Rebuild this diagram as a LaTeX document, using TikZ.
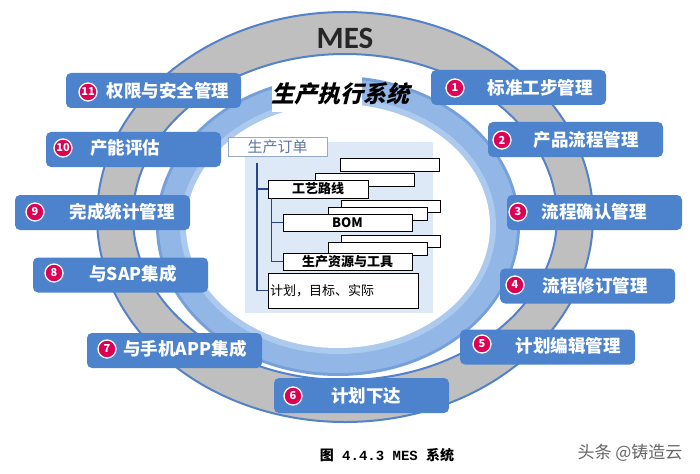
\documentclass[tikz,border=0pt]{standalone}
\usepackage{fontspec}
\setmainfont{Liberation Sans}
\newfontfamily\cjk{Noto Sans CJK SC}
\newfontfamily\cjkslant{Noto Sans CJK SC}[FakeSlant=0.25,BoldFeatures={FakeSlant=0.25}]
\newfontfamily\mesfont{Carlito}
\newfontfamily\capmono{Liberation Mono}
\definecolor{ringgray}{RGB}{191,191,191}
\definecolor{ringblue}{RGB}{84,130,200}
\definecolor{lbdark}{RGB}{118,160,218}
\definecolor{lbmid}{RGB}{146,183,231}
\definecolor{lblight}{RGB}{172,201,238}
\definecolor{panelblue}{RGB}{221,233,246}
\definecolor{boxblue}{RGB}{76,131,204}
\definecolor{badgered}{RGB}{222,0,84}
\definecolor{treeblue}{RGB}{40,70,140}
\definecolor{ordertext}{RGB}{95,120,165}
\definecolor{orderline}{RGB}{150,170,200}

\begin{document}
\begin{tikzpicture}[x=1pt,y=-1pt,
        mbox/.style={fill=boxblue,rounded corners=5pt,minimum width=175pt,
            minimum height=35pt,inner sep=0pt},
        badge/.style={circle,fill=badgered,draw=white,line width=1.3pt,
            minimum size=18pt,inner sep=0pt,text=white,
            font=\cjk\bfseries\fontsize{11}{11}\selectfont},
        mlabel/.style={text=white,inner sep=0pt,
            font=\cjk\bfseries\fontsize{17.5}{17.5}\selectfont},
        leaf/.style={draw,fill=white,line width=0.9pt,inner sep=0pt,
            font=\cjk\bfseries\fontsize{13}{13}\selectfont},
        back/.style={draw,fill=white,line width=0.9pt,inner sep=0pt,
            minimum width=99pt,minimum height=13pt},
        twigline/.style={treeblue,line width=1.1pt}]
\useasboundingbox (0,0) rectangle (700,473);
\fill[white] (0,0) rectangle (700,473);

\fill[ringgray,even odd rule] (345,217) ellipse [x radius=248pt,y radius=205pt]
    (345,217) ellipse [x radius=212pt,y radius=163pt];
\draw[ringblue,line width=2pt] (345,217) ellipse [x radius=248pt,y radius=205pt];
\draw[ringblue,line width=2pt] (345,217) ellipse [x radius=212pt,y radius=163pt];

\fill[lbdark] (338,226) ellipse [x radius=182pt,y radius=150pt];
\fill[lbmid] (338,226) ellipse [x radius=179pt,y radius=147pt];
\fill[lblight] (338,226) ellipse [x radius=158pt,y radius=128pt];
\fill[white] (338,226) ellipse [x radius=152pt,y radius=122pt];
\fill[white] (272,66) rectangle (362,112);

\fill[panelblue] (245,142) rectangle (433,313);
\node[draw=orderline,fill=white,line width=1pt,minimum width=99pt,minimum height=18pt,
    inner sep=0pt,text=ordertext,font=\cjk\fontsize{15}{15}\selectfont]
    (order) at (277.5,147) {生产订单};

\node[back] (route2) at (390,164.5) {};
\node[back] (route1) at (365,179.5) {};
\node[leaf,minimum width=100pt,minimum height=18pt] (route) at (318,189) {工艺路线};
\node[back,minimum height=12pt] (bom2) at (391,206) {};
\node[back] (bom1) at (377.5,213.5) {};
\node[leaf,minimum width=129pt,minimum height=17pt] (bom) at (347.5,222.5) {BOM};
\node[back,minimum height=12pt] (res2) at (391,241) {};
\node[back] (res1) at (377.5,248.5) {};
\node[leaf,minimum width=129pt,minimum height=17pt] (res) at (347.5,261.5) {生产资源与工具};
\node[leaf,font=\cjk\fontsize{13}{13}\selectfont,minimum width=150pt,minimum height=35pt,
    text width=146pt,align=left] (plan) at (343,290.5) {计划，目标、实际};

\coordinate (trunk) at (257,163);
\draw[twigline] (trunk) |- (route.west);
\draw[twigline] (trunk) |- (plan.west);
\coordinate (twig) at ([xshift=4pt]route.south west);
\draw[twigline] (twig) |- (bom.west);
\draw[twigline] (twig) |- (res.west);

\node[mbox] (b1) at (518.5,87.5) {};
\node[badge] (n1) at (455,88) {1};
\node[mlabel] (t1) at (540,88) {标准工步管理};
\node[mbox] (b2) at (575.5,139.5) {};
\node[badge] (n2) at (502,140) {2};
\node[mlabel] (t2) at (586,140) {产品流程管理};
\node[mbox] (b3) at (594.5,212.5) {};
\node[badge] (n3) at (518,212) {3};
\node[mlabel] (t3) at (594,212) {流程确认管理};
\node[mbox] (b4) at (587.5,286) {};
\node[badge] (n4) at (515,285) {4};
\node[mlabel] (t4) at (595,286) {流程修订管理};
\node[mbox] (b5) at (547.5,347) {};
\node[badge] (n5) at (482,344) {5};
\node[mlabel] (t5) at (568,346) {计划编辑管理};
\node[mbox] (b6) at (361.5,395.5) {};
\node[badge] (n6) at (293,396) {6};
\node[mlabel] (t6) at (366,396) {计划下达};
\node[mbox] (b7) at (174.5,350.5) {};
\node[badge] (n7) at (107,349) {7};
\node[mlabel] (t7) at (185,349) {与手机APP集成};
\node[mbox] (b8) at (120.5,275) {};
\node[badge] (n8) at (54,273) {8};
\node[mlabel] (t8) at (133,274) {与SAP集成};
\node[mbox] (b9) at (102.5,212.5) {};
\node[badge] (n9) at (35,212) {9};
\node[mlabel] (t9) at (122,212) {完成统计管理};
\node[mbox] (b10) at (133.5,149.5) {};
\node[badge] (n10) at (63,148) {10};
\node[mlabel] (t10) at (125,148) {产能评估};
\node[mbox] (b11) at (153.5,90.5) {};
\node[badge] (n11) at (88,92) {11};
\node[mlabel] (t11) at (168,91) {权限与安全管理};

\node[text=black!85,font=\mesfont\bfseries\fontsize{31}{31}\selectfont] (mes) at (345,38) {MES};
\node[font=\cjkslant\bfseries\fontsize{23}{23}\selectfont] (title) at (340,94) {生产执行系统};
\node[font=\bfseries\fontsize{14}{14}\selectfont] (caption) at (387,455)
    {{\cjk 图}\capmono\ 4.4.3 MES {\cjk 系统}};
\node[text=black!60,font=\cjk\fontsize{17}{17}\selectfont] (mark) at (630,453) {头条 @铸造云};
\end{tikzpicture}
\end{document}
